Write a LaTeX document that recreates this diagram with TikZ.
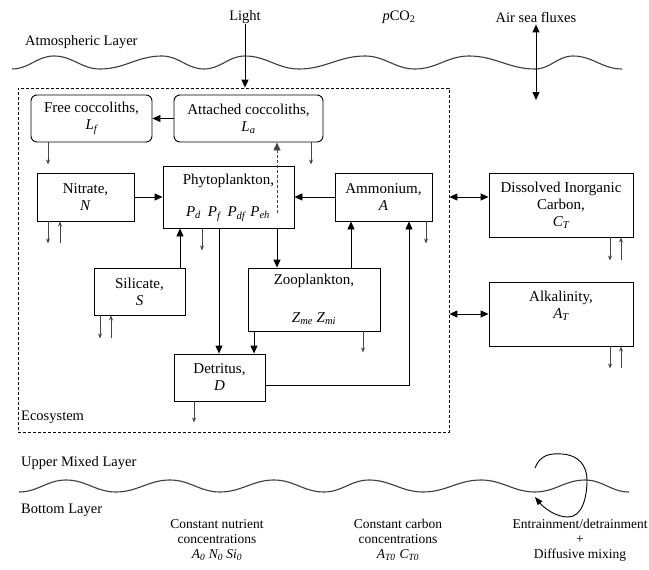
\documentclass[tikz,border=0pt]{standalone}
\usepackage{fontspec}
\setmainfont{Liberation Serif}
\usetikzlibrary{arrows.meta}
\definecolor{lg}{RGB}{70,70,70}
\definecolor{wv}{RGB}{60,60,60}
\newcommand{\bxfont}{\fontsize{15}{17}\selectfont}
\newcommand{\tlfont}{\fontsize{14.5}{17}\selectfont}
\newcommand{\btfont}{\fontsize{13.5}{15}\selectfont}
\begin{document}
\begin{tikzpicture}[x=1pt,y=-1pt,
  box/.style={draw=black, line width=0.9pt, inner sep=0pt, align=center, font=\bxfont},
  rbox/.style={box, rounded corners=6pt},
  lbl/.style={inner sep=0pt, font=\tlfont, align=center},
  ilbl/.style={inner sep=0pt, font=\bxfont, align=center},
  blbl/.style={inner sep=0pt, font=\btfont, align=center},
  main/.style={draw=black, line width=0.9pt, -{Triangle[length=8pt,width=7pt]}},
  dbl/.style={draw=black, line width=0.9pt, {Triangle[length=8pt,width=7pt]}-{Triangle[length=8pt,width=7pt]}},
  thin/.style={draw=lg, line width=0.7pt, -{Stealth[length=5pt,width=4pt]}},
  darr/.style={draw=lg, line width=0.9pt, dash pattern=on 3pt off 2pt, -{Triangle[length=8pt,width=7pt]}},
  wave/.style={draw=wv, line width=1.1pt},
  wv/.style={out=0,in=180},
]
\useasboundingbox (0,0) rectangle (649,570);
\fill[white] (0,0) rectangle (649,570);

% top labels
\node[lbl, anchor=west] (atm) at (25,42) {Atmospheric Layer};
\node[lbl] (light) at (245,17) {Light};
\node[lbl] (pco2) at (399,17) {\textit{p}CO\textsubscript{2}};
\node[lbl] (airsea) at (536,17) {Air sea fluxes};

% waves
\draw[wave] (12,69) to[wv] (54,56) to[wv] (100,69) to[wv] (162,56) to[wv] (204,69)
  to[wv] (245,56) to[wv] (299,69) to[wv] (365,56) to[wv] (415,69) to[wv] (469,56)
  to[wv] (535,69) to[wv] (573,56) to[wv] (622,69);
\draw[wave] (19,492) to[wv] (66,480) to[wv] (116,492) to[wv] (170,480) to[wv] (220,492)
  to[wv] (274,480) to[wv] (324,492) to[wv] (369,480) to[wv] (423,492) to[wv] (481,480)
  to[wv] (535,492) to[wv] (585,480) to[wv] (629,492);

% ecosystem box
\node[draw=black, line width=0.8pt, dash pattern=on 3pt off 2pt, minimum width=431, minimum height=344, inner sep=0pt] (eco) at (233.5,260) {};
\node[lbl, anchor=west] (ecol) at (21,417) {Ecosystem};

% boxes
\node[rbox, minimum width=121, minimum height=47] (free) at (91.5,118.5) {Free coccoliths,\\ \textit{L\textsubscript{f}}};
\node[rbox, minimum width=149, minimum height=47] (att) at (248.5,118.5) {Attached coccoliths,\\ \textit{L\textsubscript{a}}};
\node[box, minimum width=97, minimum height=48] (nit) at (85.5,197) {Nitrate,\\ \textit{N}};
\node[box, minimum width=131, minimum height=62] (phy) at (228.5,197) {};
\node[ilbl] (phyt) at (228.5,181) {Phytoplankton,};
\node[ilbl] (phyp) at (228,214) {\textit{P\textsubscript{d}}\hspace{7pt}\textit{P\textsubscript{f}}\hspace{7pt}\textit{P\textsubscript{df}}\hspace{5pt}\textit{P\textsubscript{eh}}};
\node[box, minimum width=97, minimum height=48] (amm) at (383.5,197) {Ammonium,\\ \textit{A}};
\node[box, minimum width=144, minimum height=64] (dic) at (561,205) {Dissolved Inorganic\\ Carbon,\\ \textit{C\textsubscript{T}}};
\node[box, minimum width=91, minimum height=47] (sil) at (139.5,291.5) {Silicate,\\ \textit{S}};
\node[box, minimum width=132, minimum height=63] (zoo) at (314,299.5) {Zooplankton,\\[21pt] \textit{Z\textsubscript{me} Z\textsubscript{mi}}};
\node[box, minimum width=144, minimum height=64] (alk) at (561,314) {};
\node[ilbl] (alkt) at (561,306) {Alkalinity,\\ \textit{A\textsubscript{T}}};
\node[box, minimum width=91, minimum height=47] (det) at (219.5,377.5) {Detritus,\\ \textit{D}};

% top arrows
\draw[main] (light.south) -- (light.south |- eco.north);
\coordinate (airbot) at (536,100);
\draw[dbl] ([yshift=-2pt]airsea.south) -- (airsea.south |- airbot);

% connectors
\draw[main] (att.west) -- (free.east);
\draw[thin] ([xshift=-43.5pt]free.south) -- ++(0,22);
\draw[thin] ([xshift=62.5pt]att.south) -- ++(0,22);
\draw[darr] ([xshift=48.5pt,yshift=15pt]phy.south) -- ([xshift=28.5pt]att.south);
\draw[main] (nit.east) -- (phy.west);
\draw[main] (amm.west) -- (phy.east);
\draw[thin] ([xshift=-37.5pt]nit.south) -- ++(0,22);
\draw[thin] ([xshift=-25.5pt,yshift=-22pt]nit.south) -- ([xshift=-25.5pt]nit.south);
\draw[main] ([xshift=40.5pt]sil.north) -- ([xshift=-48.5pt]phy.south);
\draw[thin] ([xshift=-26.5pt]phy.south) -- ++(0,22);
\draw[main] ([xshift=-9.5pt]phy.south) -- ([xshift=-0.5pt]det.north);
\draw[main] ([xshift=48.5pt]phy.south) -- ([xshift=-37pt]zoo.north);
\draw[main] ([xshift=37pt]zoo.north) -- ([xshift=-32.5pt]amm.south);
\draw[thin] ([xshift=42.5pt]amm.south) -- ++(0,22);
\draw[main] ([yshift=-7.5pt]det.east) -| ([xshift=25.5pt]amm.south);
\draw[main] ([xshift=-60pt]zoo.south) -- ([xshift=34.5pt]det.north);
\draw[thin] ([xshift=49pt]zoo.south) -- ++(0,21);
\draw[thin] ([xshift=-39.5pt]sil.south) -- ++(0,23);
\draw[thin] ([xshift=-28.5pt,yshift=-23pt]sil.south) -- ([xshift=-28.5pt]sil.south);
\draw[thin] ([xshift=-25.5pt]det.south) -- ++(0,21);
\draw[thin] ([xshift=49pt]dic.south) -- ++(0,23);
\draw[thin] ([xshift=60pt,yshift=-23pt]dic.south) -- ([xshift=60pt]dic.south);
\draw[thin] ([xshift=49pt]alk.south) -- ++(0,22);
\draw[thin] ([xshift=60pt,yshift=-22pt]alk.south) -- ([xshift=60pt]alk.south);
\draw[dbl] (eco.east |- amm.west) -- (dic.west |- amm.west);
\draw[dbl] (eco.east |- alk.west) -- (alk.west);

% bottom labels
\node[lbl, anchor=west] (uml) at (21,463) {Upper Mixed Layer};
\node[lbl, anchor=west] (bl) at (21,510) {Bottom Layer};
\node[blbl] (cn) at (217,540) {Constant nutrient\\ concentrations\\ \textit{A\textsubscript{0} N\textsubscript{0} Si\textsubscript{0}}};
\node[blbl] (cc) at (398,540) {Constant carbon\\ concentrations\\ \textit{A\textsubscript{T0}\hspace{4pt}C\textsubscript{T0}}};
\node[blbl] (ed) at (580,540) {Entrainment/detrainment\\ +\\ Diffusive mixing};

% mixing loop
\draw[draw=black, line width=0.9pt, -{Triangle[length=8pt,width=6pt]}]
  (535,468) .. controls (540,455) and (550,453) .. (562,454)
  .. controls (578,455) and (587,465) .. (587,480)
  .. controls (587,498) and (582,517) .. (568,517)
  .. controls (556,517) and (544,508) .. (535,497);
\end{tikzpicture}
\end{document}
